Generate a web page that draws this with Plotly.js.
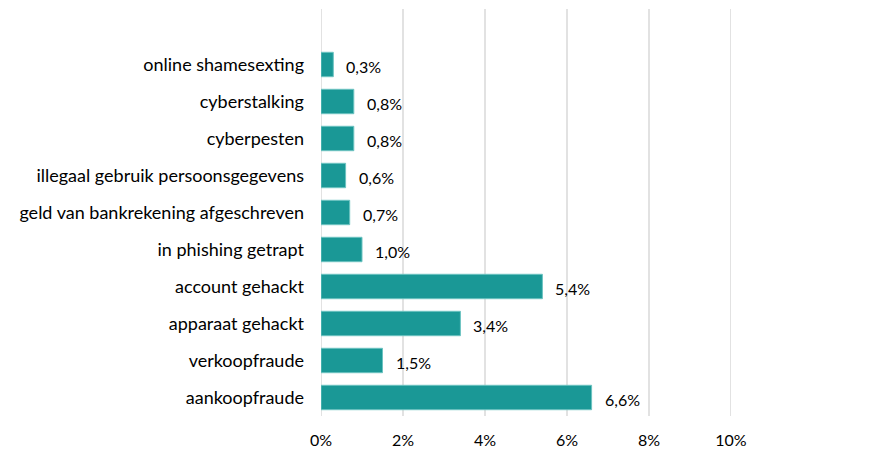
<!DOCTYPE html>
<html>
<head>
<meta charset="utf-8">
<script src="https://cdn.plot.ly/plotly-3.0.1.min.js"></script>
<style>html,body{margin:0;padding:0;background:#fff;}#chart{width:896px;height:451px;}</style>
</head>
<body>
<div id="chart"></div>
<script>
// Categories listed bottom to top
const categories = [
  "aankoopfraude",
  "verkoopfraude",
  "apparaat gehackt",
  "account gehackt",
  "in phishing getrapt",
  "geld van bankrekening afgeschreven",
  "illegaal gebruik persoonsgegevens",
  "cyberpesten",
  "cyberstalking",
  "online shamesexting"
];
const values = [6.6, 1.5, 3.4, 5.4, 1.0, 0.7, 0.6, 0.8, 0.8, 0.3];
const xTicks = [0, 2, 4, 6, 8, 10];
const xTickLabels = ["0%", "2%", "4%", "6%", "8%", "10%"];

const FONT = "Lato, 'Open Sans', sans-serif";
const labels = values.map(v => v.toFixed(1).replace('.', ',') + '%');

const trace = {
  type: 'bar',
  orientation: 'h',
  x: values,
  y: categories,
  width: 0.66,
  marker: {color: '#1a9896', line: {color: '#6cc3c1', width: 1}},
  hoverinfo: 'none'
};

const annotations = values.map((v, i) => ({
  x: v, y: categories[i], xref: 'x', yref: 'y',
  text: labels[i], showarrow: false, xanchor: 'left', xshift: 11, yshift: -2,
  font: {family: FONT, size: 16, color: '#000'}
}));

// vertical gridlines at each tick (drawn below the bars)
const gridShapes = xTicks.map(t => ({
  type: 'line', xref: 'x', yref: 'paper', x0: t, x1: t, y0: 0, y1: 1,
  layer: 'below', line: {color: '#d9d9d9', width: 1.5}
}));

const layout = {
  width: 896, height: 451,
  margin: {l: 321, r: 165, t: 9, b: 35},
  paper_bgcolor: '#fff', plot_bgcolor: '#fff',
  showlegend: false,
  xaxis: {
    range: [0, 10],
    tickvals: xTicks, ticktext: xTickLabels,
    showgrid: false,
    zeroline: false, showline: false, ticks: '',
    ticklabelstandoff: 13,
    tickfont: {family: FONT, size: 16, color: '#000'},
    fixedrange: true
  },
  yaxis: {
    type: 'category',
    categoryorder: 'array', categoryarray: categories,
    range: [-0.5, 10.5],
    showgrid: false, zeroline: false, showline: false, ticks: '',
    ticklabelstandoff: 16,
    tickfont: {family: FONT, size: 18, color: '#000'},
    fixedrange: true
  },
  shapes: gridShapes,
  annotations: annotations
};

Plotly.newPlot('chart', [trace], layout, {displayModeBar: false, staticPlot: true});
</script>
</body>
</html>
